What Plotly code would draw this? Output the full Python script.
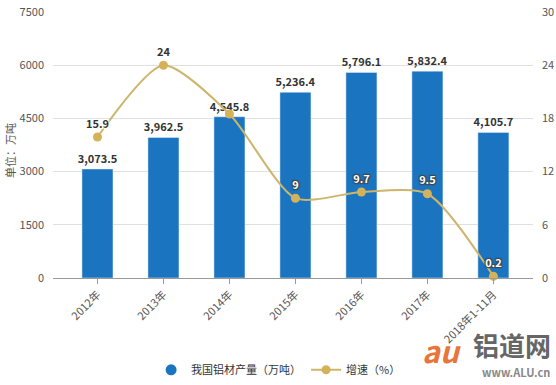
import plotly.graph_objects as go

categories = ["2012年", "2013年", "2014年", "2015年", "2016年", "2017年", "2018年1-11月"]
output_values = [3073.5, 3962.5, 4545.8, 5236.4, 5796.1, 5832.4, 4105.7]
growth_values = [15.9, 24, 18.5, 9, 9.7, 9.5, 0.2]
growth_labels = ["15.9", "24", "", "9", "9.7", "9.5", "0.2"]
bar_labels = ["{:,.1f}".format(v) for v in output_values]
left_ticks = [0, 1500, 3000, 4500, 6000, 7500]
right_ticks = [0, 6, 12, 18, 24, 30]

BLUE = "#1a74bf"
GOLD = "#d4b25a"
FONT = "Noto Sans CJK SC"

label_colors = ["#333333", "#333333", "#333333", "white", "white", "white", "white"]

fig = go.Figure()
fig.add_trace(go.Bar(
    x=categories, y=output_values, marker_color=BLUE, width=0.47,
    text=bar_labels, textposition="outside", cliponaxis=False, constraintext="none",
    textfont=dict(size=11, color="#333333", family=FONT, weight="bold"),
    showlegend=False, name="我国铝材产量（万吨）",
))
fig.add_trace(go.Scatter(
    x=categories, y=growth_values, yaxis="y2", mode="lines+markers+text",
    line=dict(color="#cdb66c", width=2, shape="spline", smoothing=0.7),
    marker=dict(color=GOLD, size=9),
    text=growth_labels, textposition="top center", cliponaxis=False,
    textfont=dict(size=11, color=label_colors, family=FONT, weight="bold", shadow="auto"),
    name="增速（%）",
))
# legend proxy for bar series (circle symbol)
fig.add_trace(go.Scatter(
    x=[None], y=[None], mode="markers", marker=dict(color=BLUE, size=11, symbol="circle"),
    name="我国铝材产量（万吨）",
))

fig.update_layout(
    width=556, height=385,
    margin=dict(l=53, r=23, t=12, b=107, autoexpand=False),
    plot_bgcolor="white", paper_bgcolor="white",
    font=dict(family=FONT, size=11, color="#555555"),
    xaxis=dict(range=[-0.674, 6.6], tickangle=-45, showgrid=False, automargin=False,
               showline=True, linecolor="#999999", ticks="outside", ticklen=5,
               tickcolor="#999999", tickfont=dict(size=11, color="#555555")),
    yaxis=dict(range=[0, 7500], tickvals=left_ticks, showgrid=True, gridcolor="#e0e0e0",
               automargin=False, zeroline=False, tickfont=dict(size=11, color="#555555"),
               ticks="", ticklabelstandoff=8),
    yaxis2=dict(range=[0, 30], tickvals=right_ticks, overlaying="y", side="right",
                automargin=False, showgrid=False, zeroline=False,
                tickfont=dict(size=11, color="#555555"), ticklabelstandoff=8),
    legend=dict(orientation="h", x=0.47, xanchor="center", y=-0.345, yanchor="middle",
                font=dict(size=11, color="#333333"), traceorder="reversed"),
    bargap=0.5,
    annotations=[
        dict(text="单位：万吨", textangle=-90, xref="paper", yref="paper",
             x=-0.088, y=0.48, xanchor="center", yanchor="middle", showarrow=False,
             font=dict(size=11, color="#555555")),
        dict(text="铝道网", xref="paper", yref="paper", x=1.042, y=-0.25, xanchor="right",
             yanchor="middle", showarrow=False, font=dict(size=26, color="#666666", weight="bold")),
        dict(text="www.ALU.cn", xref="paper", yref="paper", x=1.04, y=-0.355, xanchor="right",
             yanchor="middle", showarrow=False, font=dict(size=11, color="#888888", weight="bold")),
        dict(text="au", xref="paper", yref="paper", x=0.855, y=-0.27, xanchor="right",
             yanchor="middle", showarrow=False,
             font=dict(size=30, color="#e8753a", weight="bold", style="italic")),
    ],
)

fig.write_html("out.html", config={"displayModeBar": False},
               post_script="document.body.style.margin='0';document.body.style.overflow='hidden';")
